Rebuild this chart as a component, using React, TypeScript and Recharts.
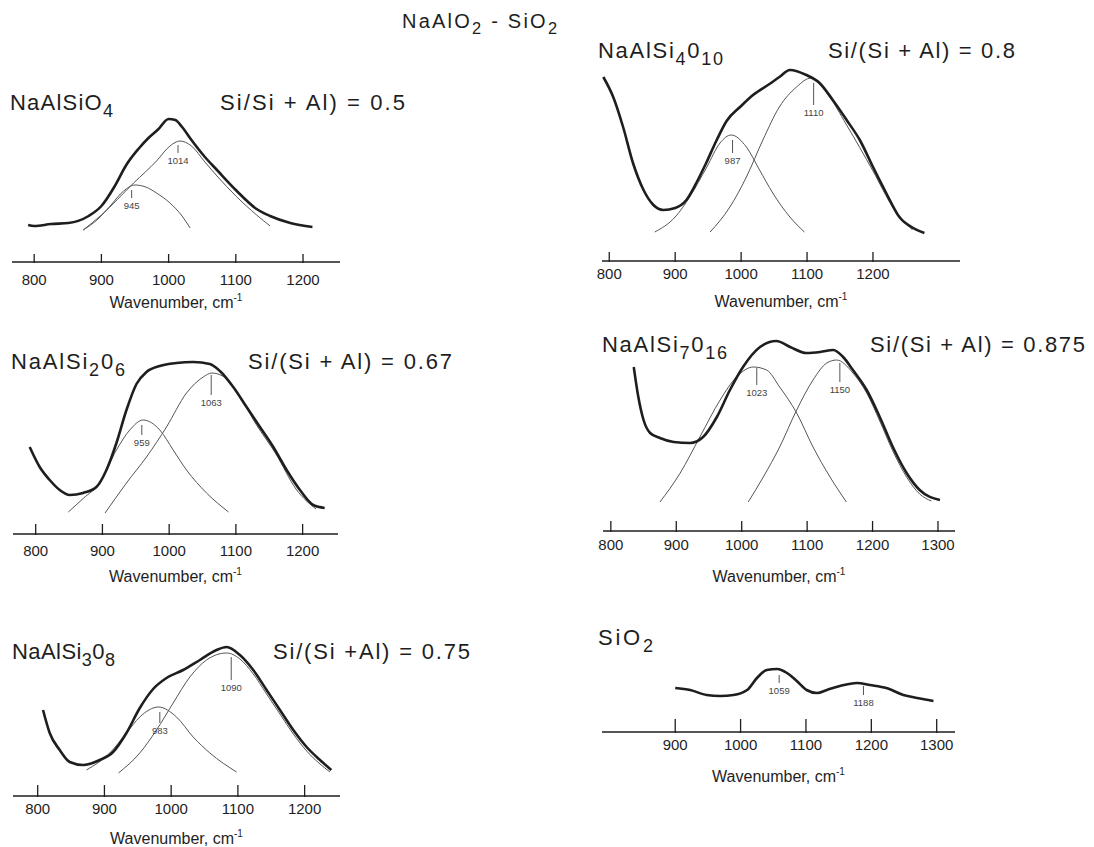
import { LineChart, Line, XAxis, YAxis, ReferenceLine } from "recharts"

const nephSpectrum = [[791, 37], [800, 36], [825, 38], [851, 39], [881, 46], [900, 56], [920, 76], [937, 97], [955, 113], [970, 124], [985, 133], [1000, 143], [1010, 142], [1020, 135], [1034, 122], [1054, 105], [1072, 92], [1100, 72], [1131, 53], [1151, 46], [1181, 39], [1214, 35]]
const neph945 = [[873, 32], [895, 43], [913, 56], [933, 71], [950, 77], [966, 75], [982, 69], [1002, 59], [1020, 46], [1032, 34]]
const neph1014 = [[873, 32], [900, 47], [948, 79], [982, 101], [1002, 116], [1017, 121], [1034, 116], [1054, 100], [1072, 86], [1100, 66], [1131, 47], [1151, 36]]
const nephPeaks = [{ wn: 945, top: 72, bottom: 64 }, { wn: 1014, top: 117, bottom: 109 }]

const si4Spectrum = [[791, 184], [806, 164], [821, 134], [836, 98], [852, 71], [867, 56], [882, 51], [900, 53], [917, 61], [932, 78], [947, 98], [963, 121], [978, 140], [1000, 155], [1018, 166], [1043, 177], [1058, 184], [1074, 191], [1099, 186], [1119, 178], [1139, 161], [1160, 141], [1180, 121], [1200, 94], [1220, 68], [1240, 44], [1261, 33], [1278, 28]]
const si4Band987 = [[869, 29], [900, 44], [922, 64], [948, 94], [968, 118], [985, 126], [1008, 114], [1028, 91], [1048, 68], [1074, 44], [1096, 29]]
const si4Band1110 = [[953, 29], [983, 54], [1008, 84], [1033, 121], [1058, 154], [1084, 174], [1106, 183], [1130, 168], [1160, 136], [1200, 90], [1230, 54], [1260, 31]]
const si4Peaks = [{ wn: 987, top: 121, bottom: 108 }, { wn: 1110, top: 178, bottom: 156 }]

const jadSpectrum = [[791, 87], [806, 67], [821, 54], [836, 44], [851, 39], [871, 41], [891, 47], [906, 64], [921, 91], [936, 124], [951, 150], [966, 162], [986, 168], [1011, 171], [1036, 172], [1061, 170], [1076, 163], [1096, 147], [1116, 127], [1136, 107], [1156, 87], [1176, 64], [1196, 44], [1216, 29], [1233, 26]]
const jadBand959 = [[849, 22], [872, 36], [896, 51], [921, 84], [941, 104], [961, 114], [986, 104], [1006, 84], [1026, 64], [1056, 41], [1089, 22]]
const jadBand1063 = [[904, 21], [936, 51], [966, 77], [996, 107], [1026, 141], [1051, 157], [1064, 161], [1080, 158], [1100, 144], [1130, 110], [1160, 80], [1190, 45], [1220, 25]]
const jadPeaks = [{ wn: 959, top: 109, bottom: 99 }, { wn: 1063, top: 159, bottom: 139 }]

const si7Spectrum = [[835, 164], [842, 134], [850, 111], [860, 98], [875, 93], [896, 89], [921, 88], [941, 94], [962, 114], [982, 141], [1002, 164], [1028, 184], [1053, 190], [1074, 184], [1099, 178], [1120, 179], [1140, 181], [1155, 174], [1170, 161], [1191, 141], [1211, 114], [1231, 84], [1252, 58], [1272, 41], [1303, 31]]
const si7Band1023 = [[875, 29], [906, 58], [936, 94], [967, 131], [992, 154], [1018, 164], [1038, 161], [1058, 144], [1084, 118], [1109, 84], [1135, 54], [1160, 29]]
const si7Band1150 = [[1010, 29], [1033, 54], [1058, 84], [1084, 121], [1109, 151], [1130, 168], [1145, 171], [1170, 158], [1191, 138], [1211, 110], [1231, 80], [1252, 54], [1272, 37], [1290, 30]]
const si7Peaks = [{ wn: 1023, top: 163, bottom: 146 }, { wn: 1150, top: 168, bottom: 149 }]

const albSpectrum = [[808, 86], [818, 63], [833, 46], [848, 34], [868, 31], [893, 36], [913, 44], [933, 63], [953, 88], [973, 107], [993, 118], [1018, 126], [1043, 136], [1068, 146], [1083, 149], [1103, 141], [1123, 126], [1143, 106], [1163, 86], [1183, 66], [1203, 49], [1223, 36], [1240, 26]]
const albBand983 = [[873, 26], [908, 43], [933, 63], [953, 79], [981, 89], [1008, 79], [1033, 59], [1058, 43], [1098, 24]]
const albBand1090 = [[921, 23], [953, 43], [978, 66], [1003, 93], [1028, 119], [1053, 136], [1083, 143], [1103, 137], [1123, 122], [1143, 102], [1163, 82], [1183, 62], [1203, 45], [1223, 32], [1238, 24]]
const albPeaks = [{ wn: 983, top: 84, bottom: 73 }, { wn: 1090, top: 139, bottom: 116 }]

const silicaSpectrum = [[900, 44], [923, 42], [948, 37], [969, 36], [989, 37], [1010, 42], [1025, 54], [1040, 62], [1056, 63], [1071, 59], [1086, 51], [1101, 42], [1117, 39], [1132, 42], [1152, 46], [1178, 49], [1198, 47], [1223, 44], [1249, 37], [1270, 34], [1295, 31]]
const silicaPeaks = [{ wn: 1059, top: 57, bottom: 49 }, { wn: 1188, top: 46, bottom: 37 }]

const ticks12 = [800, 900, 1000, 1100, 1200]
const ticks13 = [800, 900, 1000, 1100, 1200, 1300]
const ticksSilica = [900, 1000, 1100, 1200, 1300]

const FONT = "'Liberation Sans', Arial, Helvetica, sans-serif"
const INK = "#1e1e1e"
const PLOT_H = 200
const PAD = 24

const toPts = (rows: number[][]) => rows.map(([wn, v]) => ({ wn, v }))

const panels = [
  { id: "neph", spectrum: nephSpectrum, bands: [neph945, neph1014], peaks: nephPeaks, ticks: ticks12, domain: [767, 1255], left: 12, axisY: 262, width: 328, tickLen: 8, tickDy: 23, labelDy: 46 },
  { id: "si4", spectrum: si4Spectrum, bands: [si4Band987, si4Band1110], peaks: si4Peaks, ticks: ticks12, domain: [789, 1332], left: 602, axisY: 261, width: 358, tickLen: 9, tickDy: 18, labelDy: 46 },
  { id: "jad", spectrum: jadSpectrum, bands: [jadBand959, jadBand1063], peaks: jadPeaks, ticks: ticks12, domain: [766, 1253], left: 13, axisY: 534, width: 325, tickLen: 10, tickDy: 22, labelDy: 48 },
  { id: "si7", spectrum: si7Spectrum, bands: [si7Band1023, si7Band1150], peaks: si7Peaks, ticks: ticks13, domain: [788, 1326], left: 603, axisY: 531, width: 352, tickLen: 10, tickDy: 19, labelDy: 51 },
  { id: "alb", spectrum: albSpectrum, bands: [albBand983, albBand1090], peaks: albPeaks, ticks: ticks12, domain: [763, 1253], left: 13, axisY: 796, width: 327, tickLen: 11, tickDy: 18, labelDy: 48 },
  { id: "silica", spectrum: silicaSpectrum, bands: [], peaks: silicaPeaks, ticks: ticksSilica, domain: [788, 1328], left: 602, axisY: 732, width: 353, tickLen: 13, tickDy: 18, labelDy: 50 },
]

// formula parts alternate: normal, subscript, normal, ...
const titles = [
  { parts: ["NaAlO", "2", " - SiO", "2"], x: 402, y: 28, len: 155, size: 20 },
  { parts: ["NaAlSiO", "4"], x: 10, y: 110, len: 103, size: 22 },
  { parts: ["Si/Si + Al) = 0.5"], x: 220, y: 110, len: 185, size: 22 },
  { parts: ["NaAlSi", "4", "0", "10"], x: 598, y: 58, len: 125, size: 22 },
  { parts: ["Si/(Si + Al) = 0.8"], x: 828, y: 58, len: 187, size: 22 },
  { parts: ["NaAlSi", "2", "0", "6"], x: 11, y: 369, len: 114, size: 22 },
  { parts: ["Si/(Si + Al) = 0.67"], x: 248, y: 369, len: 204, size: 22 },
  { parts: ["NaAlSi", "7", "0", "16"], x: 602, y: 352, len: 125, size: 22 },
  { parts: ["Si/(Si + Al) = 0.875"], x: 870, y: 352, len: 215, size: 22 },
  { parts: ["NaAlSi", "3", "0", "8"], x: 12, y: 659, len: 103, size: 22 },
  { parts: ["Si/(Si +Al) = 0.75"], x: 273, y: 659, len: 197, size: 22 },
  { parts: ["SiO", "2"], x: 598, y: 645, len: 55, size: 22 },
]

function Formula({ parts, x, y, len, size }: { parts: string[]; x: number; y: number; len: number; size: number }) {
  const drop = Math.round(size * 0.3)
  let shift = 0
  return (
    <text x={x} y={y} fontSize={size} fill={INK} fontFamily={FONT} textLength={len} lengthAdjust="spacing">
      {parts.map((p, i) => {
        const sub = i % 2 === 1
        const dy = (sub ? drop : 0) - shift
        shift = sub ? drop : 0
        return <tspan key={i} dy={dy} fontSize={sub ? size * 0.82 : size}>{p}</tspan>
      })}
    </text>
  )
}

const makeTick = (len: number, dy: number) => (props: any) => {
  const { x, y, payload } = props
  return (
    <g>
      <line x1={x} x2={x} y1={y - len} y2={y + 1} stroke={INK} strokeWidth={1.3} />
      <text x={x} y={y + dy} textAnchor="middle" fontSize={15} fill={INK} fontFamily={FONT}>{payload.value}</text>
    </g>
  )
}

function Panel({ p }: { p: typeof panels[number] }) {
  return (
    <div style={{ position: "absolute", left: p.left - PAD, top: p.axisY - PLOT_H }}>
      <LineChart width={p.width + 2 * PAD} height={PLOT_H + 60} margin={{ top: 0, right: PAD, left: PAD, bottom: 0 }}>
        <XAxis type="number" dataKey="wn" domain={p.domain} ticks={p.ticks} interval={0} allowDataOverflow
          height={60} tickLine={false} tickSize={0} tickMargin={0} tick={makeTick(p.tickLen, p.tickDy)}
          axisLine={{ stroke: INK, strokeWidth: 1.5 }} />
        <YAxis hide type="number" domain={[0, PLOT_H]} allowDataOverflow />
        {p.bands.map((b, i) => (
          <Line key={i} data={toPts(b)} dataKey="v" type="monotone" stroke="#555" strokeWidth={1} dot={false} isAnimationActive={false} />
        ))}
        <Line data={toPts(p.spectrum)} dataKey="v" type="monotone" stroke={INK} strokeWidth={2.6} dot={false} isAnimationActive={false} />
        {p.peaks.map((k) => (
          <ReferenceLine key={k.wn} segment={[{ x: k.wn, y: k.top }, { x: k.wn, y: k.bottom }]} stroke="#555" strokeWidth={1}
            label={{ value: String(k.wn), position: "bottom", offset: 4, fontSize: 9.5, fill: "#444", fontFamily: FONT }} />
        ))}
      </LineChart>
    </div>
  )
}

export default function App() {
  return (
    <div style={{ position: "absolute", left: 0, top: 0, width: 1094, height: 847, background: "#fff", overflow: "hidden" }}>
      {panels.map((p) => <Panel key={p.id} p={p} />)}
      <svg width={1094} height={847} style={{ position: "absolute", left: 0, top: 0, pointerEvents: "none" }}>
        {titles.map((t, i) => <Formula key={i} {...t} />)}
        {panels.map((p) => (
          <text key={p.id} x={p.left + p.width / 2} y={p.axisY + p.labelDy} textAnchor="middle" fontSize={16} fill={INK} fontFamily={FONT}>
            Wavenumber, cm<tspan dy={-7} fontSize={10}>-1</tspan>
          </text>
        ))}
      </svg>
    </div>
  )
}
